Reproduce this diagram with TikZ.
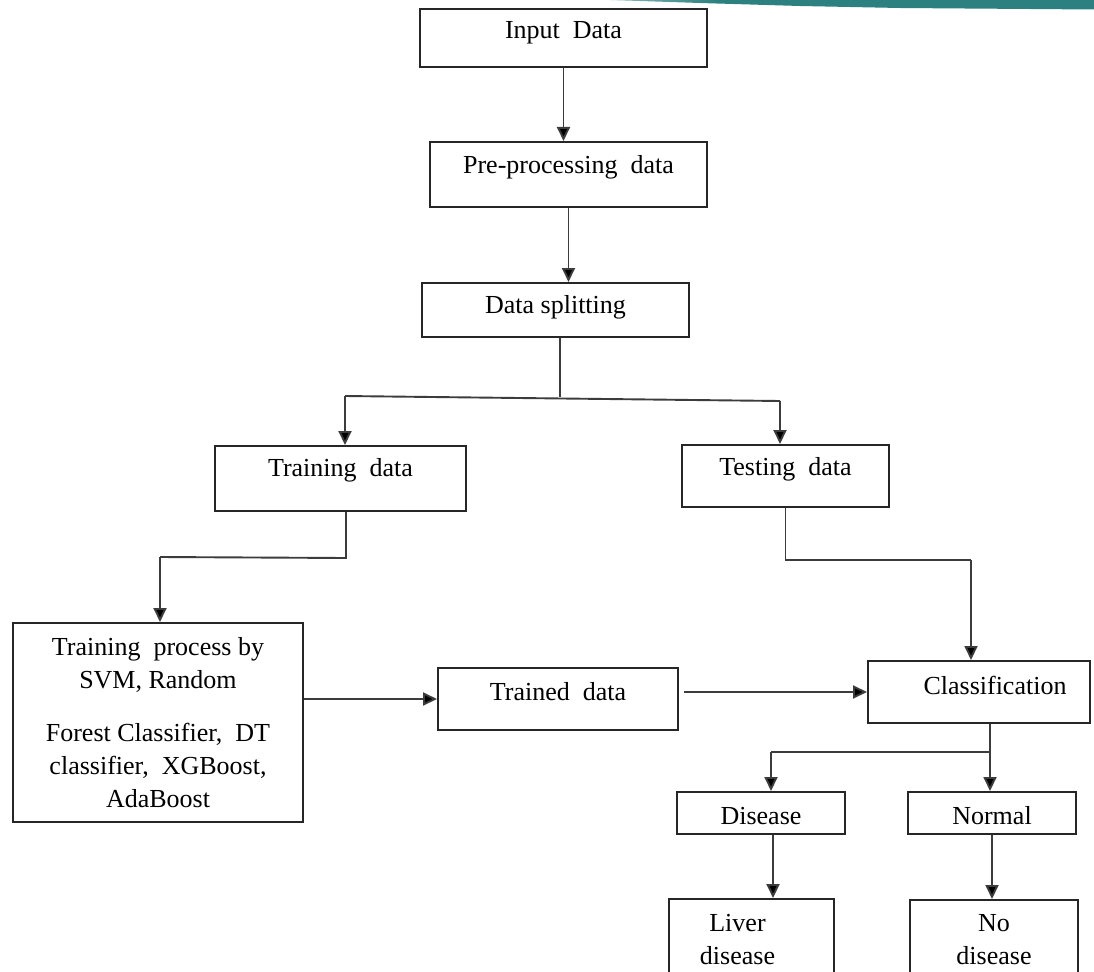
\documentclass[tikz,border=0pt]{standalone}
\usepackage{fontspec}
\setmainfont{Liberation Serif}
\usetikzlibrary{arrows.meta,calc}
\definecolor{tealc}{RGB}{44,128,127}
\definecolor{linec}{RGB}{60,60,60}
\pgfdeclarehorizontalshading{tealfade}{100bp}{color(0bp)=(white); color(25bp)=(white!45!tealc); color(36bp)=(tealc); color(100bp)=(tealc)}
\newcommand{\rtext}[2]{\raisebox{#1pt}[\height][\depth]{#2}}
\tikzset{
  box/.style={draw=black!85, line width=2pt, rectangle, inner sep=0pt, align=center,
    font=\fontsize{26}{33}\selectfont},
  conn/.style={draw=linec, line width=1.9pt},
  arr/.style={conn, -{Triangle[length=14pt,width=13pt,fill=black]}},
}
\begin{document}
\begin{tikzpicture}[x=1pt,y=-1pt]
\clip (0,0) rectangle (1094,971);
\fill[white] (0,0) rectangle (1094,971);
% teal band at top right
\shade[shading=tealfade] (610,0) -- (1094,0) -- (1094,9.5) -- (900,8) -- (800,6) -- (700,3) -- cycle;

% boxes
\node[box, minimum width=287pt, minimum height=58pt] (inp) at (563.5,38) {\rtext{5}{Input~ Data}};
\node[box, minimum width=277pt, minimum height=65pt] (pre) at (568.5,174.5) {\rtext{7.5}{Pre-processing~ data}};
\node[box, minimum width=267pt, minimum height=54pt] (split) at (555.5,310) {\rtext{3}{Data splitting}};
\node[box, minimum width=251pt, minimum height=65pt] (train) at (340.5,478.5) {\rtext{8}{Training~ data}};
\node[box, minimum width=207pt, minimum height=62pt] (test) at (785.5,476) {\rtext{7}{Testing~ data}};
\node[box, minimum width=290pt, minimum height=199pt] (proc) at (158,722.5)
  {Training~ process by\\SVM, Random\\[20pt]Forest Classifier,~ DT\\classifier,~ XGBoost,\\AdaBoost};
\node[box, minimum width=240pt, minimum height=62pt] (trained) at (558,699) {\rtext{7}{Trained~ data}};
\node[box, minimum width=222pt, minimum height=62pt] (cls) at (979,692) {\rtext{7}{\hspace*{32pt}Classification}};
\node[box, minimum width=168pt, minimum height=42pt] (dis) at (761,813) {\rtext{-3}{Disease}};
\node[box, minimum width=168pt, minimum height=42pt] (nor) at (992,813) {\rtext{-3}{Normal}};
\node[box, minimum width=165pt, minimum height=91pt] (liv) at (751.5,944.5) {\rtext{3.5}{\begin{tabular}{@{}c@{}}Liver\\disease\end{tabular}\hspace*{28pt}}};
\node[box, minimum width=168pt, minimum height=90pt] (nod) at (994,945) {\rtext{4}{\begin{tabular}{@{}c@{}}No\\disease\end{tabular}}};

% junction points
\coordinate (j1) at (560,397);
\coordinate (jl) at (345,396);
\coordinate (jr) at (780,401);
\coordinate (k1) at (346,558);
\coordinate (k2) at (160,557);
\coordinate (m2) at (971,560);
\coordinate (n1) at (990,752);
\coordinate (nl) at (771,752);

% connectors
\draw[arr] (inp.south) -- (inp.south |- pre.north);
\draw[arr] (pre.south) -- (pre.south |- split.north);
\draw[conn] (j1 |- split.south) -- (j1);
\draw[conn] (jl) -- (jr);
\draw[arr] (jl) -- (jl |- train.north);
\draw[arr] (jr) -- (jr |- test.north);
\draw[conn] (k1 |- train.south) -- (k1) -- (k2);
\draw[arr] (k2) -- (k2 |- proc.north);
\draw[conn] (test.south) |- (m2);
\draw[arr] (m2) -- (m2 |- cls.north);
\draw[arr] (proc.east |- trained.west) -- (trained.west);
\draw[arr] ($(trained.east |- cls.west)+(5,0)$) -- (cls.west);
\draw[conn] (n1 |- cls.south) -- (n1) -- (nl);
\draw[arr] (nl) -- (nl |- dis.north);
\draw[arr] (n1) -- (n1 |- nor.north);
\draw[arr] ($(dis.south)+(12,0)$) -- ($(dis.south |- liv.north)+(12,0)$);
\draw[arr] (nor.south) -- (nor.south |- nod.north);
\end{tikzpicture}
\end{document}
